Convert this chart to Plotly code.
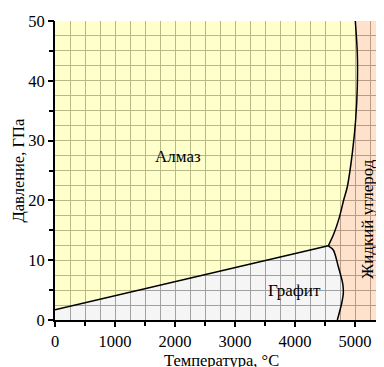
import plotly.graph_objects as go

# Phase boundaries (temperature °C, pressure GPa)
gd_T = [0, 4555]
gd_P = [1.7, 12.4]

gl_T = [4555, 4638, 4722, 4795, 4805, 4778, 4705]
gl_P = [12.4, 11.7, 8.9, 6.1, 4.5, 2.8, 0]

dl_T = [4555, 4650, 4740, 4812, 4870, 4955, 5010, 5038, 5038, 5005]
dl_P = [12.4, 14.5, 17.2, 20.1, 22.2, 27.9, 33.4, 39.0, 44.6, 50]

T_MAX = 5483
P_MAX = 50

x_ticks = [0, 1000, 2000, 3000, 4000, 5000]
y_ticks = [0, 10, 20, 30, 40, 50]

labels = ["Алмаз", "Графит", "Жидкий углерод"]
label_T = [2050, 3992, 5217]
label_P = [27.3, 5.0, 16.9]

FONT = "Liberation Serif, Times New Roman, serif"
GRID = "#a8a8a8"

fig = go.Figure()

# Graphite region
g_x = [0] + gd_T + gl_T[1:] + [0]
g_y = [0] + gd_P + gl_P[1:] + [0]
fig.add_trace(go.Scatter(x=g_x, y=g_y, fill="toself", fillcolor="rgba(0,0,0,0.04)",
                         line=dict(width=0), mode="lines", hoverinfo="skip", showlegend=False))

# Diamond region
d_x = [gd_T[0], 0] + dl_T[::-1] + [gd_T[0]]
d_y = [gd_P[0], P_MAX] + dl_P[::-1] + [gd_P[0]]
fig.add_trace(go.Scatter(x=d_x, y=d_y, fill="toself", fillcolor="rgba(255,255,0,0.2)",
                         line=dict(width=0), mode="lines", hoverinfo="skip", showlegend=False))

# Liquid region
l_x = gl_T + [T_MAX, T_MAX] + dl_T[::-1]
l_y = gl_P + [0, P_MAX] + dl_P[::-1]
fig.add_trace(go.Scatter(x=l_x, y=l_y, fill="toself", fillcolor="rgba(255,110,0,0.2)",
                         line=dict(width=0), mode="lines", hoverinfo="skip", showlegend=False))

# Boundary lines
fig.add_trace(go.Scatter(x=gd_T, y=gd_P, mode="lines", line=dict(color="black", width=1.5),
                         hoverinfo="skip", showlegend=False))
for xs, ys in [(gl_T, gl_P), (dl_T, dl_P)]:
    fig.add_trace(go.Scatter(x=xs, y=ys, mode="lines",
                             line=dict(color="black", width=1.5, shape="spline", smoothing=0.8),
                             hoverinfo="skip", showlegend=False))

for txt, tx, ty in zip(labels, label_T, label_P):
    fig.add_annotation(x=tx, y=ty, text=txt, showarrow=False,
                       textangle=-90 if txt == "Жидкий углерод" else 0,
                       font=dict(family=FONT, size=17, color="black"))

# Axis titles
fig.add_annotation(xref="paper", yref="paper", x=0, y=0.5, xanchor="center", yanchor="middle",
                   xshift=-37, text="Давление, ГПа", textangle=-90, showarrow=False,
                   font=dict(family=FONT, size=16.5, color="black"))
fig.add_annotation(xref="paper", yref="paper", x=0.5, y=0, xanchor="center", yanchor="middle",
                   yshift=-40, xshift=2, text="Температура, °C", showarrow=False,
                   font=dict(family=FONT, size=16.5, color="black"))

fig.update_layout(
    width=376, height=359,
    margin=dict(l=47, r=0, t=13, b=47),
    paper_bgcolor="white", plot_bgcolor="white",
    font=dict(family=FONT, size=16.5, color="black"),
    xaxis=dict(range=[0, T_MAX], tickvals=x_ticks, ticks="outside", ticklen=5, tickwidth=1.5,
               tickcolor="black", showline=True, linecolor="black", linewidth=2,
               showgrid=True, gridcolor=GRID, gridwidth=1, zeroline=False,
               minor=dict(dtick=250, tick0=0, showgrid=True, gridcolor=GRID, gridwidth=1, ticks=""),
               automargin=False, fixedrange=True),
    yaxis=dict(range=[0, P_MAX], tickvals=y_ticks, ticks="outside", ticklen=5, tickwidth=1.5,
               tickcolor="black", showline=True, linecolor="black", linewidth=2,
               showgrid=True, gridcolor=GRID, gridwidth=1, zeroline=False,
               minor=dict(dtick=2.5, tick0=0, showgrid=True, gridcolor=GRID, gridwidth=1, ticks=""),
               automargin=False, fixedrange=True),
)

# Minor tick marks (every 500 °C / 5 GPa) via overlay axes, no grid
fig.update_layout(
    xaxis2=dict(overlaying="x", matches="x", range=[0, T_MAX], dtick=500, tick0=0, ticks="outside",
                ticklen=5, tickwidth=1.5, tickcolor="black", showticklabels=False, showgrid=False,
                zeroline=False, side="bottom", anchor="y"),
    yaxis2=dict(overlaying="y", matches="y", range=[0, P_MAX], dtick=5, tick0=0, ticks="outside",
                ticklen=5, tickwidth=1.5, tickcolor="black", showticklabels=False, showgrid=False,
                zeroline=False, side="left", anchor="x"),
)
fig.add_trace(go.Scatter(x=[0], y=[0], xaxis="x2", yaxis="y2", mode="markers",
                         marker=dict(opacity=0), hoverinfo="skip", showlegend=False))

fig.write_html("out.html")
